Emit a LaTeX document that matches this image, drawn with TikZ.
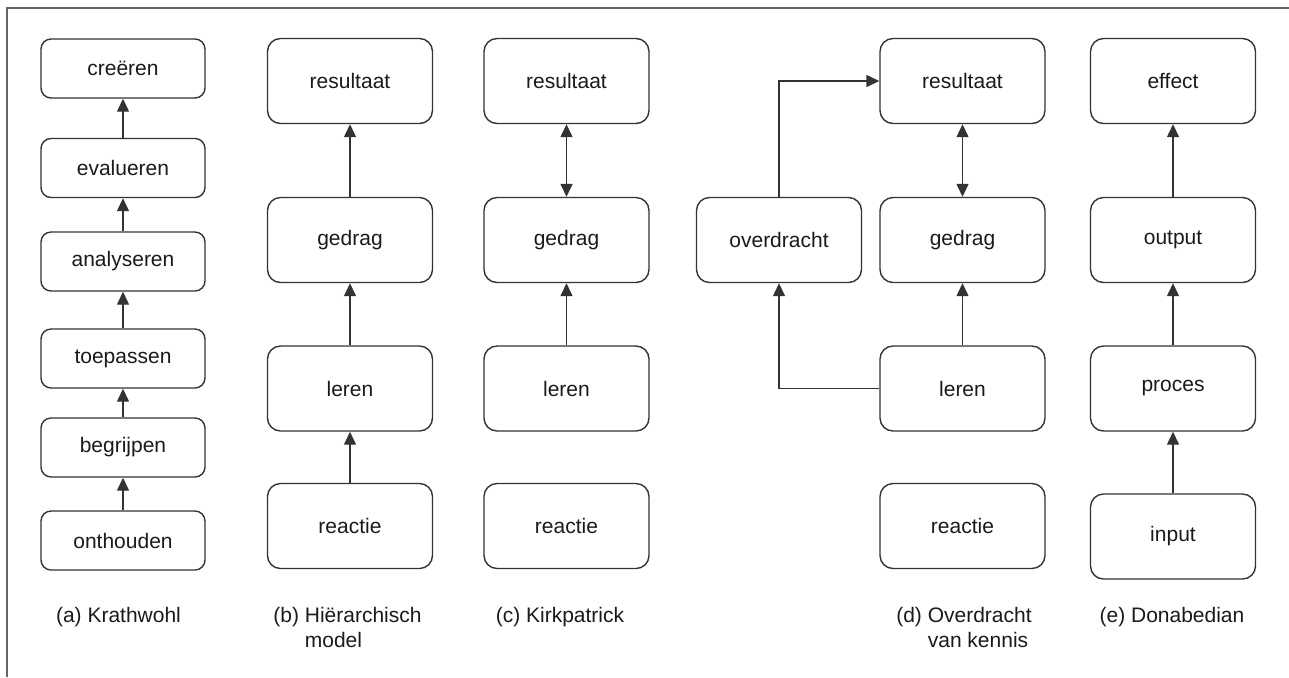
\documentclass[tikz,border=0pt]{standalone}
\usepackage{fontspec}
\setmainfont{Liberation Sans}
\usetikzlibrary{positioning,arrows.meta}
\definecolor{lijn}{HTML}{333333}
\definecolor{tekst}{HTML}{1A1A1A}
\definecolor{kader}{HTML}{666666}

\begin{document}
\begin{tikzpicture}[x=0.5pt,y=-0.5pt,line width=0.7pt,
    doos/.style={draw=lijn,rounded corners=6.5pt,minimum width=82.5pt,minimum height=42.5pt,inner sep=0pt,text=tekst,font=\fontsize{10.5}{12.5}\selectfont},
    kleinedoos/.style={doos,minimum width=82pt,minimum height=29.5pt,rounded corners=5pt},
    pijl/.style={draw=lijn,-{Triangle[length=6.5pt,width=6pt]}},
    dubbel/.style={draw=lijn,{Triangle[length=6.5pt,width=6pt]}-{Triangle[length=6.5pt,width=6pt]}},
    bijschrift/.style={anchor=north,inner sep=0pt,align=left,text=tekst,font=\fontsize{10.5}{12.5}\selectfont}]
        \useasboundingbox (0,0) rectangle (1289,677);
        \draw[kader,line width=0.6pt] (7,677) -- (7,8) -- (1289,8);

        \foreach \i/\y/\woord in {1/540.5/onthouden,2/447.5/begrijpen,3/358.5/toepassen,4/261.5/analyseren,5/168/evalueren,6/68.5/creëren}{
          \node[kleinedoos] (a\i) at (123,\y) {\woord};
        }
        \foreach \i/\j in {1/2,2/3,3/4,4/5,5/6} { \draw[pijl] (a\i) -- (a\j); }

        \foreach \k/\x in {b/350,c/566.5,d/962.5}{
          \node[doos] (res\k) at (\x,81) {resultaat};
          \node[doos] (ged\k) at (\x,240) {gedrag};
          \node[doos] (ler\k) at (\x,388.5) {leren};
          \node[doos] (rea\k) at (\x,526) {reactie};
          \draw[pijl] (ler\k) -- (ged\k);
        }
        \draw[pijl] (reab) -- (lerb);
        \draw[pijl] (gedb) -- (resb);
        \draw[dubbel] (gedc) -- (resc);
        \draw[dubbel] (gedd) -- (resd);
        \node[doos] (ov) at (779,240) {overdracht};
        \draw[pijl] (lerd) -| (ov);
        \draw[pijl] (ov) |- (resd);

        \node[doos] (eff) at (1173,81) {effect};
        \node[doos] (out) at (1173,240) {output};
        \node[doos] (pro) at (1173,388.5) {proces};
        \node[doos] (inp) at (1173,536.5) {input};
        \draw[pijl] (inp) -- (pro);
        \draw[pijl] (pro) -- (out);
        \draw[pijl] (out) -- (eff);

        \node[bijschrift] (capa) at (118.5,607) {(a) Krathwohl};
        \node[bijschrift] (capb) at (347.5,607) {(b) Hiërarchisch\\\phantom{(b) }model};
        \node[bijschrift] (capc) at (560,607) {(c) Kirkpatrick};
        \node[bijschrift] (capd) at (964,607) {(d) Overdracht\\\phantom{(d) }van kennis};
        \node[bijschrift] (cape) at (1172,607) {(e) Donabedian};
      \end{tikzpicture}
\end{document}
